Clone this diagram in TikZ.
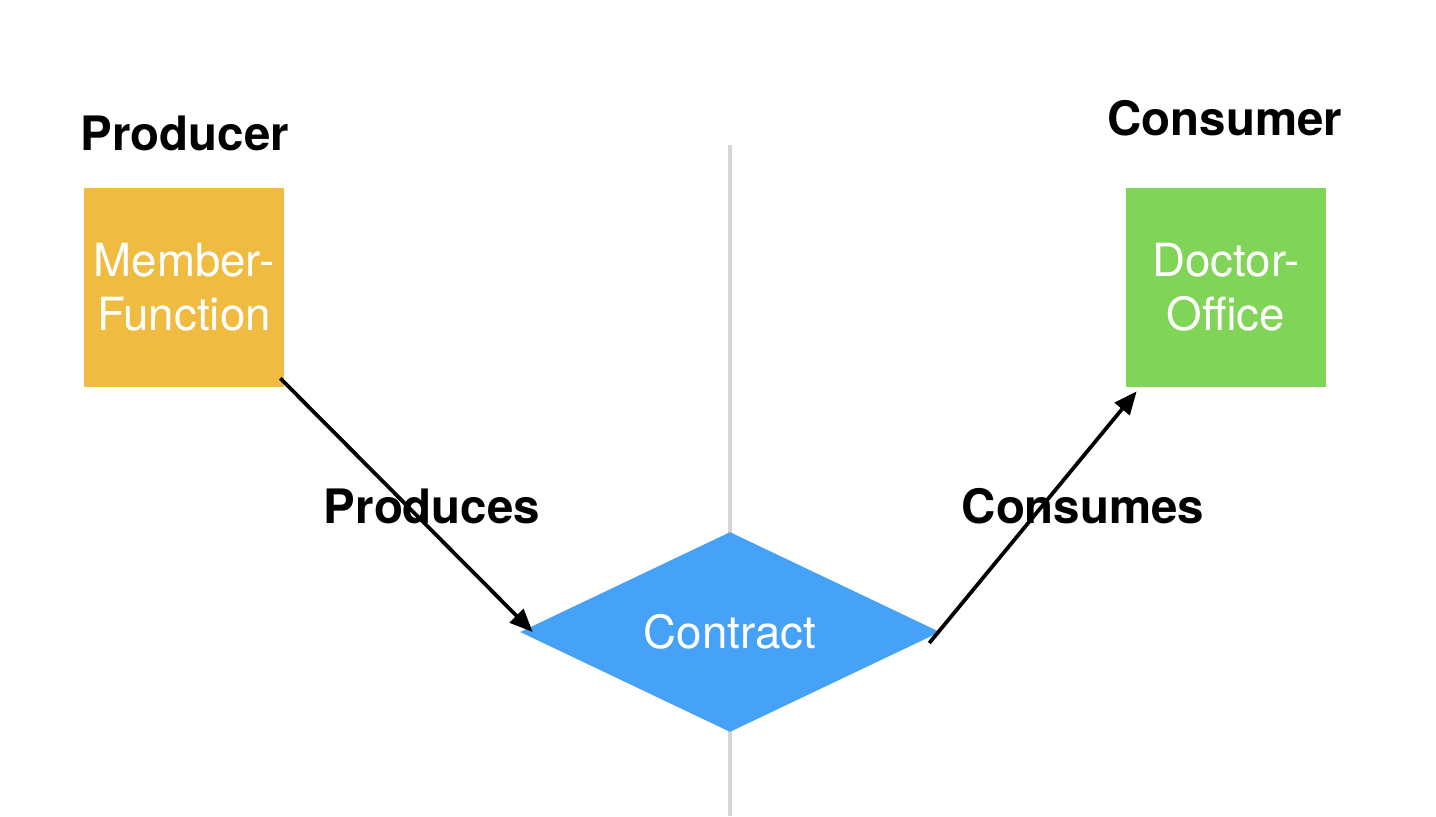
\documentclass[tikz,border=0pt]{standalone}
\usepackage{fontspec}
\setmainfont{TeX Gyre Heros}
\usetikzlibrary{shapes.geometric,arrows.meta,calc}
\definecolor{orangebox}{HTML}{EFBB40}
\definecolor{greenbox}{HTML}{80D457}
\definecolor{bluedia}{HTML}{45A2F7}
\definecolor{divider}{HTML}{D5D5D5}
\tikzset{
  square/.style={rectangle, minimum width=4cm, minimum height=3.98cm, inner sep=0pt, text=white, align=center,
     font=\fontsize{26}{30.7}\selectfont},
  heading/.style={anchor=base, font=\fontsize{27}{32}\selectfont\bfseries, text=black, inner sep=0pt},
  conn/.style={line width=0.075cm, -{Triangle[length=0.46cm,width=0.38cm]}},
}
\begin{document}
\begin{tikzpicture}[x=0.02cm,y=-0.02cm]
\useasboundingbox (0,0) rectangle (1436,816);
\coordinate (ltop) at (730,145);
\coordinate (lbot) at (730,816);
\draw[divider, line width=0.07cm] (ltop) -- (lbot);
\node[square, fill=orangebox] (mf) at (184,287.5) {Member-\\Function};
\node[square, fill=greenbox] (doc) at (1226,287.5) {Doctor-\\Office};
\node[diamond, fill=bluedia, minimum width=8.4cm, minimum height=4cm, aspect=2.1, inner sep=0pt, text=white,
      font=\fontsize{26}{30.7}\selectfont] (con) at (730,632) {Contract};
\node[heading] (prod) at (185,150) {Producer};
\node[heading] (cons) at (1225,135) {Consumer};
\node[heading] (pl) at (432,523) {Produces};
\node[heading] (cl) at (1083,523) {Consumes};
\coordinate (a1s) at ($(mf.south east)+(-4,-9)$);
\coordinate (a2s) at ($(con.east)+(-11,11)$);
\coordinate (a2e) at ($(doc.south west)+(11,4)$);
\draw[conn] (a1s) -- ($(con.west)+(13,0)$);
\draw[conn] (a2s) -- (a2e);
\end{tikzpicture}
\end{document}
